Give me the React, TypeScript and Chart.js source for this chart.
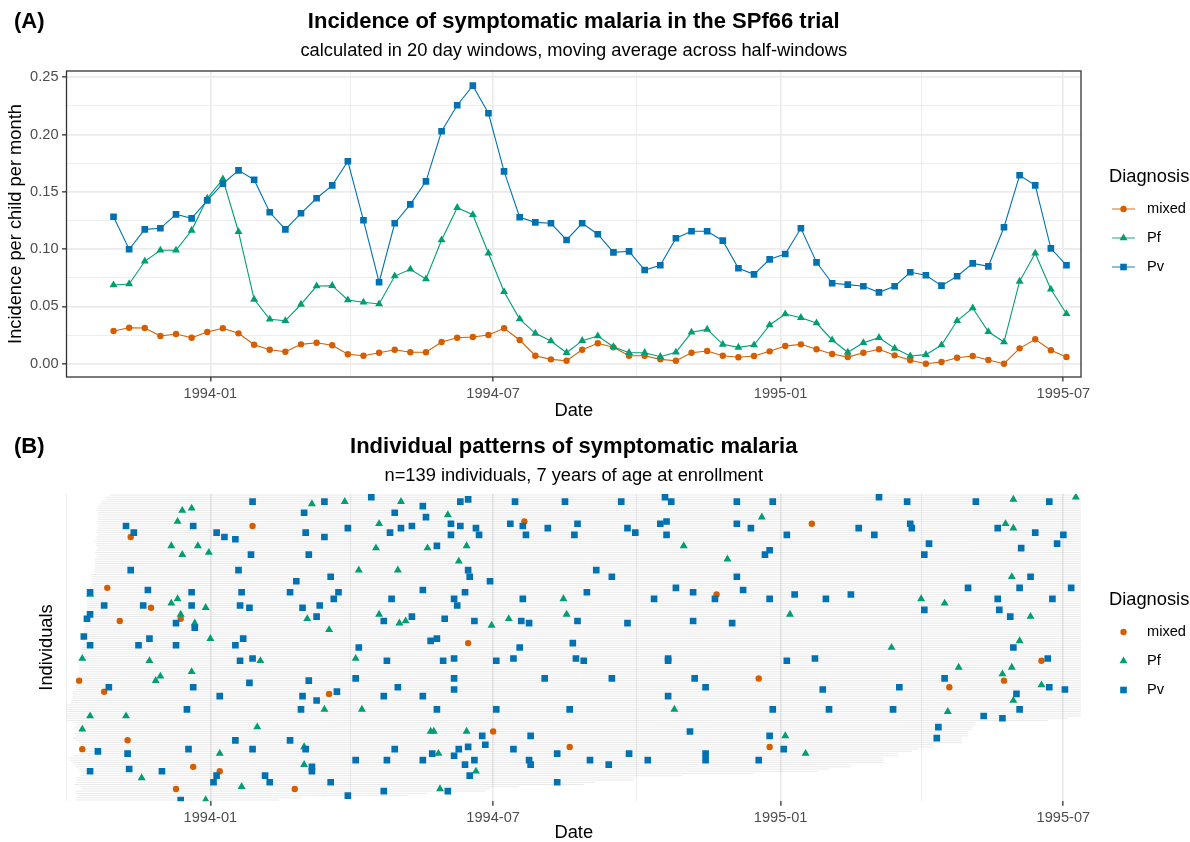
import React, { useEffect, useRef } from "react";
import { Chart, registerables } from "chart.js";

Chart.register(...registerables);

const FONT = '"Liberation Sans", Arial, Helvetica, sans-serif';

// ---------------- Panel A : incidence in 20-day windows ----------------
const windowDates = [
  "1993-10-31", "1993-11-10", "1993-11-20", "1993-11-30", "1993-12-10", "1993-12-20", "1993-12-30",
  "1994-01-09", "1994-01-19", "1994-01-29", "1994-02-08", "1994-02-18", "1994-02-28", "1994-03-10",
  "1994-03-20", "1994-03-30", "1994-04-09", "1994-04-19", "1994-04-29", "1994-05-09", "1994-05-19",
  "1994-05-29", "1994-06-08", "1994-06-18", "1994-06-28", "1994-07-08", "1994-07-18", "1994-07-28",
  "1994-08-07", "1994-08-17", "1994-08-27", "1994-09-06", "1994-09-16", "1994-09-26", "1994-10-06",
  "1994-10-16", "1994-10-26", "1994-11-05", "1994-11-15", "1994-11-25", "1994-12-05", "1994-12-15",
  "1994-12-25", "1995-01-04", "1995-01-14", "1995-01-24", "1995-02-03", "1995-02-13", "1995-02-23",
  "1995-03-05", "1995-03-15", "1995-03-25", "1995-04-04", "1995-04-14", "1995-04-24", "1995-05-04",
  "1995-05-14", "1995-05-24", "1995-06-03", "1995-06-13", "1995-06-23", "1995-07-03",
];

const mixedIncidence = [
  0.0285, 0.0314, 0.0312, 0.0242, 0.0259, 0.0227, 0.0277, 0.0309, 0.0265, 0.0166,
  0.0122, 0.0105, 0.0169, 0.0183, 0.0161, 0.0082, 0.0070, 0.0096, 0.0122, 0.0100,
  0.0100, 0.0189, 0.0227, 0.0233, 0.0251, 0.0309, 0.0207, 0.0070, 0.0038, 0.0026,
  0.0122, 0.0178, 0.0143, 0.0070, 0.0070, 0.0038, 0.0026, 0.0096, 0.0111, 0.0070,
  0.0056, 0.0067, 0.0108, 0.0155, 0.0169, 0.0126, 0.0085, 0.0058, 0.0096, 0.0126,
  0.0073, 0.0030, 0.0000, 0.0015, 0.0052, 0.0067, 0.0032, 0.0000, 0.0134, 0.0213,
  0.0117, 0.0058,
];

const pfIncidence = [
  0.0687, 0.0696, 0.0894, 0.0990, 0.0990, 0.1164, 0.1444, 0.1612, 0.1152, 0.0562,
  0.0388, 0.0375, 0.0518, 0.0678, 0.0681, 0.0556, 0.0536, 0.0521, 0.0765, 0.0824,
  0.0739, 0.1080, 0.1362, 0.1300, 0.0964, 0.0628, 0.0390, 0.0265, 0.0198, 0.0096,
  0.0201, 0.0242, 0.0148, 0.0096, 0.0096, 0.0061, 0.0100, 0.0274, 0.0300, 0.0169,
  0.0143, 0.0163, 0.0338, 0.0434, 0.0402, 0.0355, 0.0207, 0.0100, 0.0183, 0.0227,
  0.0134, 0.0067, 0.0079, 0.0163, 0.0375, 0.0486, 0.0279, 0.0189, 0.0719, 0.0964,
  0.0650, 0.0436,
];

const pvIncidence = [
  0.1283, 0.0999, 0.1173, 0.1182, 0.1304, 0.1269, 0.1426, 0.1571, 0.1688, 0.1606,
  0.1322, 0.1173, 0.1313, 0.1444, 0.1557, 0.1767, 0.1252, 0.0711, 0.1226, 0.1391,
  0.1592, 0.2029, 0.2256, 0.2427, 0.2186, 0.1679, 0.1278, 0.1234, 0.1226, 0.1080,
  0.1226, 0.1130, 0.0972, 0.0981, 0.0818, 0.0859, 0.1095, 0.1156, 0.1156, 0.1074,
  0.0833, 0.0780, 0.0911, 0.0958, 0.1182, 0.0885, 0.0702, 0.0690, 0.0676, 0.0623,
  0.0676, 0.0798, 0.0772, 0.0681, 0.0763, 0.0876, 0.0850, 0.1191, 0.1645, 0.1557,
  0.1007, 0.0859,
];

const yMajorTicks = [0, 0.05, 0.1, 0.15, 0.2, 0.25];
const yMajorLabels = ["0.00", "0.05", "0.10", "0.15", "0.20", "0.25"];
const yMinorTicks = [0.025, 0.075, 0.125, 0.175, 0.225];

const xMajorDates = ["1994-01-01", "1994-07-01", "1995-01-01", "1995-07-01"];
const xMajorLabels = ["1994-01", "1994-07", "1995-01", "1995-07"];
const xMinorDates = ["1993-10-01", "1994-04-01", "1994-10-01", "1995-04-01"];

const seriesNames = ["mixed", "Pf", "Pv"];
const seriesColors = ["#D55E00", "#009E73", "#0072B2"];
const seriesShapes = ["circle", "triangle", "rect"];

// ---------------- Panel B : individual events ----------------
// day = days since 1994-01-01, row = individual index (1 = bottom row)
const pvEventDay = [
  27, 73, 103, 60, 118, -54, -49, -11, 4, 9, 16, 61, 88, 115, 122, 73, 26, 63, -51, 18,
  77, 55, -77, -40, -12, 20, 51, 82, 79, 116, -68, -43, -12, 19, 25, 59, 70, -77, -79, 68,
  -22, -10, 111, -81, -39, 21, -77, -46, -22, 16, 95,
  136, 160, 165, 195, 227, 263, 291, 295, 337, 138, 129, 154, 160, 170, 172, 154, 192, 200, 202, 216,
  235, 233, 267, 272, 288, 292, 292, 337, 145, 165, 166, 179, 247, 257, 337, 136, 163, 156, 158, 200,
  241, 298, 309, 284, 323, 341, 129, 150, 169, 199, 204, 235, 267, 309, 334, 141, 145, 198, 232,
  360, 428, 446, 490, 537, 346, 369, 415, 425, 448, 449, 504, 528, 546, 460, 542, 358, 355, 457, 519,
  525, 485, 518, 551, 358, 374, 394, 410, 504, 539, 457, 505, 512, 514,
  19, 27, 113, 25, 63, 93, -65, -11, 120, 6, 59, 68, 81, 111, -15, 58, 16, 51, -72, -53,
  -14, 27, 61, 118, 93, 113, 65, 65, -77, -52, -31, 4, 35, 2, 38, 77, 111, 88, -19,
  149, 156, 183, 194, 234, 239, 293, 293, 156, 214, 257, 310, 156, 317, 136, 293, 145, 183, 230, 307,
  174, 205, 176, 165, 159, 194, 142, 156, 222, 268, 317, 136, 163, 169, 204, 205, 243, 255, 280, 317,
  166, 222, 152,
  369, 387, 536, 470, 392, 441, 537, 547, 516, 360, 396, 437, 518, 495, 507, 466, 465, 358, 367, 351,
];
const pvEventRow = [
  136, 136, 138, 131, 131, 125, 122, 125, 122, 120, 119, 122, 124, 122, 124, 120, 112, 112, 105, 105,
  102, 100, 95, 96, 95, 95, 95, 95, 92, 92, 89, 89, 89, 89, 88, 88, 89, 85, 83, 84,
  81, 79, 82, 75, 74, 74, 71, 71, 71, 71, 70,
  134, 136, 137, 136, 136, 136, 138, 136, 136, 129, 125, 126, 125, 124, 121, 121, 126, 125, 121, 124,
  126, 121, 124, 122, 126, 127, 121, 126, 116, 105, 102, 100, 105, 102, 102, 96, 95, 92, 89, 92,
  95, 97, 95, 92, 92, 96, 84, 83, 82, 82, 81, 82, 81, 82, 81, 73, 74, 70, 72,
  136, 138, 136, 136, 136, 124, 121, 124, 121, 126, 124, 124, 122, 121, 117, 117, 114, 112, 112, 115,
  102, 97, 97, 97, 92, 94, 92, 94, 92, 92, 87, 87, 84, 70,
  64, 65, 64, 54, 55, 56, 52, 52, 52, 48, 48, 46, 50, 48, 42, 42, 28, 28, 23, 22,
  24, 24, 24, 24, 19, 19, 16, 14, 14, 15, 14, 12, 12, 9, 9, 9, 5, 3, 1,
  64, 65, 64, 65, 65, 64, 65, 64, 56, 56, 56, 56, 51, 52, 48, 48, 42, 42, 42, 32,
  30, 30, 26, 25, 24, 24, 22, 21, 22, 22, 22, 19, 17, 19, 19, 17, 19, 17, 19, 19,
  12, 9, 5,
  64, 65, 65, 56, 51, 52, 52, 51, 49, 42, 42, 42, 42, 39, 38, 34, 29, 30, 24, 19,
];

const pfEventDay = [
  -18, -12, 65, 86, 122, -21, 108, -25, -8, -18, -1, 106, 95, 120, -77, -25, -21, -3, -19, -10,
  62, 108, 121, 125, 76, 0,
  152, 139, 164, 159, 226, 228, 180, 191, 303, 331,
  514, 554, 353, 509, 514, 513, 455, 470, 371, 525, 518, 436,
  -82, -39, 32, 93, -12, -32, -35, -77, -54, 73, 97, -82, 30, 60, 6, 60, -44, 20, -3,
  141, 143, 164, 146, 170, 147, 297,
  479, 507, 513, 532, 514, 472, 368, 381,
];
const pfEventRow = [
  132, 133, 135, 136, 136, 127, 126, 116, 116, 112, 113, 115, 105, 105, 94, 90, 92, 88, 85, 81,
  83, 85, 81, 82, 78, 74,
  130, 115, 116, 109, 92, 85, 80, 83, 116, 110,
  137, 138, 129, 126, 124, 102, 92, 90, 85, 84, 73, 70,
  65, 64, 64, 65, 59, 57, 55, 39, 39, 42, 42, 33, 34, 25, 22, 17, 11, 7, 1,
  32, 32, 32, 22, 14, 6, 42,
  61, 58, 61, 53, 46, 41, 30, 22,
];

const mixedEventDay = [
  27, -51, -66, -38, -58, -19, 201, 324, 165, 385, -84, -68, 76, -53, -82, -11, 6, -22, 54, 181,
  230, 532, 351, 508, 473, 358,
];
const mixedEventRow = [
  125, 120, 97, 88, 82, 83, 127, 94, 72, 126, 55, 50, 49, 28, 24, 16, 14, 6, 6, 32,
  25, 64, 56, 55, 52, 25,
];

// follow-up period of each individual (row 1 .. 139), days since 1994-01-01
const rowStartDay = [
  -86, -86, -84, -87, -86, -83, -84, -87, -85, -86, -86, -83, -82, -83, -84, -86, -87, -88, -90, -91,
  -88, -84, -83, -83, -83, -83, -84, -86, -88, -86, -87, -84, -86, -87, -86, -87, -92, -92, -92, -92,
  -92, -92, -92, -92, -89, -89, -88, -88, -88, -88, -86, -86, -86, -86, -85, -85, -85, -85, -84, -84,
  -84, -84, -84, -84, -83, -83, -83, -83, -83, -82, -82, -82, -82, -82, -81, -81, -81, -81, -81, -80,
  -80, -80, -80, -80, -79, -79, -79, -79, -79, -79, -79, -79, -79, -79, -78, -78, -78, -76, -76, -76,
  -76, -76, -76, -74, -74, -74, -74, -74, -74, -74, -73, -73, -74, -73, -72, -73, -73, -74, -73, -73,
  -72, -73, -73, -72, -72, -72, -72, -72, -72, -72, -72, -72, -72, -72, -70, -70, -67, -67, -64,
];
const rowEndDay = [
  44, 58, 126, 139, 176, 179, 197, 239, 246, 271, 271, 302, 348, 389, 396, 410, 410, 431, 431, 431,
  440, 440, 449, 453, 463, 463, 481, 481, 481, 485, 485, 485, 488, 488, 490, 490, 536, 549, 558, 558,
  558, 558, 558, 558, 558, 558, 558, 558, 558, 558, 558, 558, 558, 558, 558, 558, 558, 558, 558, 558,
  558, 558, 558, 558, 558, 558, 558, 558, 558, 558, 558, 558, 558, 558, 558, 558, 558, 558, 558, 558,
  558, 558, 558, 558, 558, 558, 558, 558, 558, 558, 558, 558, 558, 558, 558, 558, 558, 558, 558, 558,
  558, 558, 558, 558, 558, 558, 558, 558, 558, 558, 558, 558, 558, 558, 558, 558, 558, 558, 558, 558,
  558, 558, 558, 558, 558, 558, 558, 558, 558, 558, 558, 558, 558, 558, 558, 558, 558, 558, 558,
];

// ---------------- helpers ----------------
const ORIGIN = Date.UTC(1994, 0, 1);
function dayOf(s: string): number {
  const [y, m, d] = s.split("-").map(Number);
  return (Date.UTC(y, m - 1, d) - ORIGIN) / 86400000;
}

const X_MIN = -92.1;
const X_MAX = 557.3;
const Y_AXIS_WIDTH = 66.5;
const near = (a: number, b: number) => Math.abs(a - b) < 1e-6;

function makeXScale(height: number, titlePadBottom: number) {
  const majors = xMajorDates.map(dayOf);
  const minors = xMinorDates.map(dayOf);
  const isMajor = (v: any) => majors.some((m) => near(m, v));
  return {
    type: "linear",
    min: X_MIN,
    max: X_MAX,
    afterBuildTicks: (s: any) => {
      s.ticks = [...majors, ...minors]
        .filter((v) => v >= X_MIN && v <= X_MAX)
        .sort((a, b) => a - b)
        .map((v) => ({ value: v }));
    },
    afterFit: (s: any) => {
      s.height = height;
    },
    ticks: {
      autoSkip: false,
      maxRotation: 0,
      minRotation: 0,
      padding: 3.5,
      color: "#4D4D4D",
      font: { family: FONT, size: 14.6 },
      callback: (v: any) => {
        const i = majors.findIndex((m) => near(m, v));
        return i >= 0 ? xMajorLabels[i] : "";
      },
    },
    grid: {
      color: "#EBEBEB",
      lineWidth: (c: any) => (isMajor(c.tick && c.tick.value) ? 1.7 : 0.9),
      drawTicks: true,
      tickLength: 4.5,
      tickWidth: 1.3,
      tickColor: (c: any) => (isMajor(c.tick && c.tick.value) ? "#333333" : "rgba(0,0,0,0)"),
    },
    border: { display: false },
    title: {
      display: true,
      text: "Date",
      color: "#000000",
      font: { family: FONT, size: 18.3, lineHeight: 1 },
      padding: { top: 0, bottom: titlePadBottom },
    },
  };
}

function drawMarker(ctx: CanvasRenderingContext2D, shape: string, x: number, y: number, color: string) {
  ctx.fillStyle = color;
  ctx.beginPath();
  if (shape === "circle") {
    ctx.arc(x, y, 3.2, 0, Math.PI * 2);
  } else if (shape === "triangle") {
    const r = 4.6;
    ctx.moveTo(x, y - r);
    ctx.lineTo(x + 0.866 * r, y + r / 2);
    ctx.lineTo(x - 0.866 * r, y + r / 2);
    ctx.closePath();
  } else {
    const h = 3.3;
    ctx.rect(x - h, y - h, 2 * h, 2 * h);
  }
  ctx.fill();
}

function overlayPlugin(letter: string, letterY: number, legendTitleY: number, itemYs: number[], withLine: boolean, withBorder: boolean) {
  return {
    id: "overlay" + letter.replace(/[()]/g, ""),
    afterDraw(chart: any) {
      const ctx: CanvasRenderingContext2D = chart.ctx;
      const a = chart.chartArea;
      ctx.save();
      if (withBorder) {
        ctx.strokeStyle = "#333333";
        ctx.lineWidth = 1.3;
        ctx.strokeRect(a.left, a.top, a.right - a.left, a.bottom - a.top);
      }
      ctx.fillStyle = "#000000";
      ctx.textAlign = "left";
      ctx.textBaseline = "middle";
      ctx.font = `bold 22px ${FONT}`;
      ctx.fillText(letter, 14, letterY);
      ctx.font = `18.3px ${FONT}`;
      ctx.fillText("Diagnosis", 1109, legendTitleY);
      ctx.font = `14.6px ${FONT}`;
      seriesNames.forEach((name, i) => {
        const y = itemYs[i];
        if (withLine) {
          ctx.save();
          ctx.globalAlpha = 0.75;
          ctx.strokeStyle = seriesColors[i];
          ctx.lineWidth = 1.2;
          ctx.beginPath();
          ctx.moveTo(1112, y);
          ctx.lineTo(1135, y);
          ctx.stroke();
          ctx.restore();
        }
        drawMarker(ctx, seriesShapes[i], 1123.5, y, seriesColors[i]);
        ctx.fillStyle = "#000000";
        ctx.fillText(name, 1147, y);
      });
      ctx.restore();
    },
  };
}

function buildChartA(canvas: HTMLCanvasElement) {
  const xs = windowDates.map(dayOf);
  const values = [mixedIncidence, pfIncidence, pvIncidence];
  const radii = [3.2, 4.6, 4.7];
  const datasets = seriesNames.map((name, i) => ({
    label: name,
    data: xs.map((x, j) => ({ x, y: values[i][j] })),
    borderColor: seriesColors[i],
    backgroundColor: seriesColors[i],
    pointBackgroundColor: seriesColors[i],
    pointBorderWidth: 0,
    pointStyle: seriesShapes[i],
    pointRadius: radii[i],
    borderWidth: 1.1,
    tension: 0,
    fill: false,
    order: 2 - i,
  }));
  const yMajor = (v: any) => yMajorTicks.some((m) => near(m, v));
  return new Chart(canvas, {
    type: "line",
    data: { datasets } as any,
    options: {
      animation: false,
      responsive: false,
      maintainAspectRatio: false,
      devicePixelRatio: 1,
      layout: { padding: { left: 0, right: 109, top: 0, bottom: 0 } },
      scales: {
        x: makeXScale(44, 0.85) as any,
        y: {
          type: "linear",
          min: -0.0116,
          max: 0.2555,
          afterBuildTicks: (s: any) => {
            s.ticks = [...yMajorTicks, ...yMinorTicks].sort((a, b) => a - b).map((v) => ({ value: v }));
          },
          afterFit: (s: any) => {
            s.width = Y_AXIS_WIDTH;
          },
          ticks: {
            autoSkip: false,
            padding: 3.5,
            color: "#4D4D4D",
            font: { family: FONT, size: 14.6 },
            callback: (v: any) => {
              const i = yMajorTicks.findIndex((m) => near(m, v));
              return i >= 0 ? yMajorLabels[i] : "";
            },
          },
          grid: {
            color: "#EBEBEB",
            lineWidth: (c: any) => (yMajor(c.tick && c.tick.value) ? 1.7 : 0.9),
            drawTicks: true,
            tickLength: 4.5,
            tickWidth: 1.3,
            tickColor: (c: any) => (yMajor(c.tick && c.tick.value) ? "#333333" : "rgba(0,0,0,0)"),
          },
          border: { display: false },
          title: {
            display: true,
            text: "Incidence per child per month",
            color: "#000000",
            font: { family: FONT, size: 18.3, lineHeight: 1 },
            padding: { top: 6.85, bottom: 0 },
          },
        } as any,
      },
      plugins: {
        legend: { display: false },
        tooltip: { enabled: false },
        title: {
          display: true,
          text: "Incidence of symptomatic malaria in the SPf66 trial",
          color: "#000000",
          font: { family: FONT, size: 22, weight: "bold", lineHeight: 1.2 },
          padding: { top: 8.8, bottom: 0 },
          fullSize: false,
        },
        subtitle: {
          display: true,
          text: "calculated in 20 day windows, moving average across half-windows",
          color: "#000000",
          font: { family: FONT, size: 18.3, lineHeight: 1.2 },
          padding: { top: 4.8, bottom: 9.04 },
          fullSize: false,
        },
      },
    } as any,
    plugins: [overlayPlugin("(A)", 22, 177, [209, 238, 267], true, true) as any],
  });
}

function buildChartB(canvas: HTMLCanvasElement) {
  const segments: any[] = [];
  rowStartDay.forEach((s, i) => {
    segments.push({ x: s, y: i + 1 });
    segments.push({ x: rowEndDay[i], y: i + 1 });
    segments.push({ x: rowEndDay[i], y: null });
  });
  const days = [mixedEventDay, pfEventDay, pvEventDay];
  const rows = [mixedEventRow, pfEventRow, pvEventRow];
  const radii = [3.2, 4.6, 4.7];
  const eventSets = seriesNames.map((name, i) => ({
    type: "scatter",
    label: name,
    data: days[i].map((d, j) => ({ x: d, y: rows[i][j] })),
    backgroundColor: seriesColors[i],
    pointBackgroundColor: seriesColors[i],
    pointBorderWidth: 0,
    pointStyle: seriesShapes[i],
    pointRadius: radii[i],
    showLine: false,
    order: 2 - i,
  }));
  return new Chart(canvas, {
    type: "scatter",
    data: {
      datasets: [
        {
          type: "line",
          label: "follow-up",
          data: segments,
          borderColor: "rgba(0,0,0,0.085)",
          borderWidth: 1,
          pointRadius: 0,
          spanGaps: false,
          fill: false,
          tension: 0,
          order: 10,
        },
        ...eventSets,
      ],
    } as any,
    options: {
      animation: false,
      responsive: false,
      maintainAspectRatio: false,
      devicePixelRatio: 1,
      layout: { padding: { left: 0, right: 109, top: 0, bottom: 0 } },
      scales: {
        x: makeXScale(40.7, 0) as any,
        y: {
          type: "linear",
          min: 0.4,
          max: 139.6,
          afterFit: (s: any) => {
            s.width = Y_AXIS_WIDTH;
          },
          ticks: { display: false },
          grid: { display: false },
          border: { display: false },
          title: {
            display: true,
            text: "Individuals",
            color: "#000000",
            font: { family: FONT, size: 18.3, lineHeight: 1 },
            padding: { top: 37.85, bottom: 0 },
          },
        } as any,
      },
      plugins: {
        legend: { display: false },
        tooltip: { enabled: false },
        title: {
          display: true,
          text: "Individual patterns of symptomatic malaria",
          color: "#000000",
          font: { family: FONT, size: 22, weight: "bold", lineHeight: 1.2 },
          padding: { top: 12.8, bottom: 0 },
          fullSize: false,
        },
        subtitle: {
          display: true,
          text: "n=139 individuals, 7 years of age at enrollment",
          color: "#000000",
          font: { family: FONT, size: 18.3, lineHeight: 1.2 },
          padding: { top: 4.82, bottom: 6.72 },
          fullSize: false,
        },
      },
    } as any,
    plugins: [overlayPlugin("(B)", 26, 179, [211, 240, 269], false, false) as any],
  });
}

export default function App() {
  const refA = useRef<HTMLCanvasElement | null>(null);
  const refB = useRef<HTMLCanvasElement | null>(null);
  useEffect(() => {
    if (!refA.current || !refB.current) return;
    const a = buildChartA(refA.current);
    const b = buildChartB(refB.current);
    return () => {
      a.destroy();
      b.destroy();
    };
  }, []);
  return (
    <div style={{ position: "absolute", left: 0, top: 0, width: 1190, height: 842, background: "#ffffff" }}>
      <canvas ref={refA} width={1190} height={421} style={{ display: "block", width: 1190, height: 421 }} />
      <canvas ref={refB} width={1190} height={421} style={{ display: "block", width: 1190, height: 421 }} />
    </div>
  );
}
